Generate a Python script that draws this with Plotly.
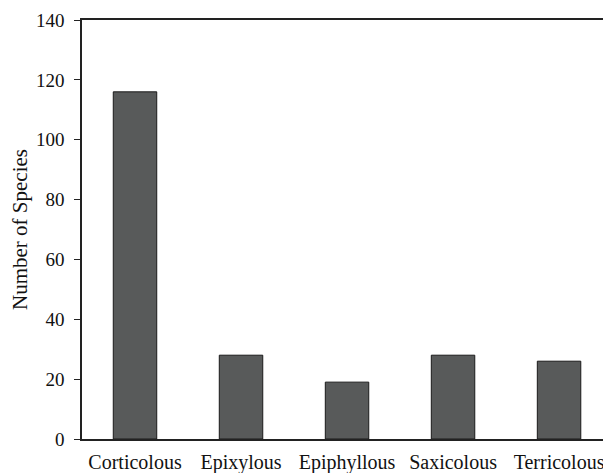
import plotly.graph_objects as go

categories = ["Corticolous", "Epixylous", "Epiphyllous", "Saxicolous", "Terricolous"]
species_counts = [116, 28, 19, 28, 26]
y_ticks = [0, 20, 40, 60, 80, 100, 120, 140]

fig = go.Figure(go.Bar(
    x=categories,
    y=species_counts,
    marker=dict(color="#585a5a", line=dict(color="#1a1a1a", width=1)),
    width=0.41,
))

font = "Liberation Serif, Times New Roman, serif"
fig.update_layout(
    width=603, height=465,
    margin=dict(l=74, r=0, t=12, b=34),
    plot_bgcolor="white", paper_bgcolor="white",
    font=dict(family=font, size=19, color="#111111"),
    showlegend=False,
    xaxis=dict(
        range=[-0.5, 4.49], showline=True, linecolor="#222222", linewidth=1.5,
        mirror=True, ticks="", showgrid=False, tickfont=dict(size=20),
        ticklabelstandoff=4,
    ),
    yaxis=dict(
        range=[0, 140], tickvals=y_ticks, showline=True, linecolor="#222222",
        linewidth=1.5, ticks="outside", ticklen=6, tickcolor="#222222",
        showgrid=False, zeroline=False, tickfont=dict(size=19),
        ticklabelstandoff=6,
        title=dict(text="Number of Species", font=dict(size=21), standoff=4),
    ),
)

fig.write_html("out.html")
